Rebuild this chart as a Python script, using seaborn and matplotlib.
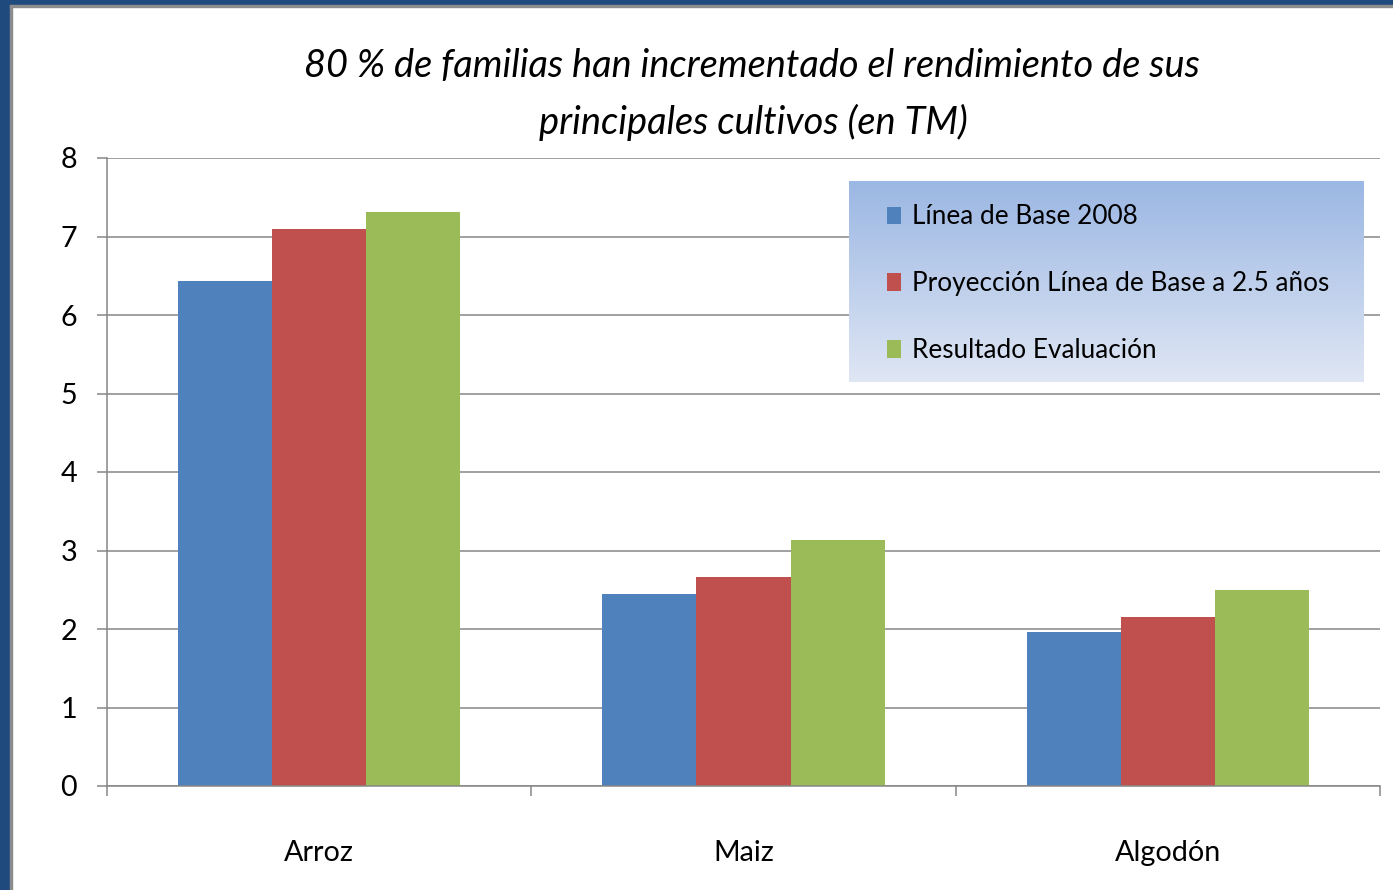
import numpy as np
import pandas as pd
import matplotlib
matplotlib.use("Agg")
import matplotlib.pyplot as plt
from matplotlib.patches import Rectangle
import seaborn as sns

cultivos = ["Arroz", "Maiz", "Algodón"]
series = ["Línea de Base 2008", "Proyección Línea de Base a 2.5 años", "Resultado Evaluación"]
linea_base = [6.43, 2.45, 1.96]
proyeccion = [7.10, 2.66, 2.15]
resultado = [7.31, 3.13, 2.50]
colores = ["#4f81bd", "#c0504d", "#9bbb59"]
titulo = ["80 % de familias han incrementado el rendimiento de sus",
          "principales cultivos (en TM)"]

df = pd.DataFrame({
    "cultivo": cultivos * 3,
    "serie": [series[0]] * 3 + [series[1]] * 3 + [series[2]] * 3,
    "valor": linea_base + proyeccion + resultado,
})

sns.set_style("white")
plt.rcParams["font.family"] = ["Lato", "DejaVu Sans"]
plt.rcParams["text.color"] = "black"
plt.rcParams["xtick.labelcolor"] = "black"
plt.rcParams["ytick.labelcolor"] = "black"

W, H = 1393, 890
fig = plt.figure(figsize=(W / 100, H / 100), dpi=100, facecolor="white")
renderer = fig.canvas.get_renderer()


def fit_width(txt, target_px):
    # ajusta el tamaño de letra para que el texto ocupe target_px de ancho
    w = txt.get_window_extent(renderer).width
    txt.set_fontsize(txt.get_fontsize() * target_px / w)


# marco azul oscuro y linea gris
fig.patches.append(Rectangle((0, 0), 10 / W, 1, transform=fig.transFigure, color="#1f4a7e", zorder=0))
fig.patches.append(Rectangle((0, 1 - 5 / H), 1, 5 / H, transform=fig.transFigure, color="#1f4a7e", zorder=0))
fig.patches.append(Rectangle((10 / W, 0), 2 / W, 1 - 5 / H, transform=fig.transFigure, color="#8c8c8c", zorder=0))
fig.patches.append(Rectangle((10 / W, 1 - 7 / H), 1, 2 / H, transform=fig.transFigure, color="#8c8c8c", zorder=0))

ax = fig.add_axes([107 / W, 1 - 786 / H, 1273 / W, 628 / H])
sns.barplot(data=df, x="cultivo", y="valor", hue="serie", order=cultivos, hue_order=series,
            palette=colores, width=0.665, gap=0, saturation=1, linewidth=0, ax=ax, legend=True)

grid_col = "#868686"
ax.set_ylim(0, 8)
ax.set_xlim(-0.5, 2.5)
ax.set_yticks(range(0, 9))
ax.yaxis.grid(True, color=grid_col, linewidth=1.1)
ax.set_axisbelow(True)
for s in ["top", "right"]:
    ax.spines[s].set_visible(False)
for s in ["left", "bottom"]:
    ax.spines[s].set_color(grid_col)
    ax.spines[s].set_linewidth(1.1)
ax.spines["bottom"].set_zorder(3)

ax.set_xticks([-0.5, 0.5, 1.5, 2.5])
ax.set_xticklabels([])
ax.set_xticks([0, 1, 2], minor=True)
xl = ax.set_xticklabels(cultivos, minor=True, fontsize=24)
ax.tick_params(axis="x", which="major", direction="out", length=7.5, width=1.1, color=grid_col, bottom=True)
ax.tick_params(axis="x", which="minor", length=0, pad=39)
ax.tick_params(axis="y", direction="out", length=7.5, width=1.1, color=grid_col, left=True, labelsize=24, pad=14)
ax.set_xlabel("")
ax.set_ylabel("")
fit_width(xl[2], 106)
size_ticks = xl[2].get_fontsize()
ax.tick_params(axis="both", which="both", labelsize=size_ticks, labelcolor="black")

# fondo degradado de la leyenda
grad_ax = ax.inset_axes([0.5829, 0.6433, 0.4038, 0.3201], zorder=4.5)
top = np.array([155, 183, 227]) / 255
bot = np.array([223, 230, 244]) / 255
t = np.linspace(0, 1, 100)[:, None, None]
grad = top * (1 - t) + bot * t
grad_ax.imshow(grad, aspect="auto", extent=[0, 1, 0, 1])
grad_ax.set_axis_off()

handles, labels = ax.get_legend_handles_labels()
tmp = fig.text(0, 0, series[1], fontsize=22)
fit_width(tmp, 414)
size_leg = tmp.get_fontsize()
tmp.remove()
leg = ax.legend(handles, labels, loc="upper left", bbox_to_anchor=(0.6128, 0.926),
                frameon=False, fontsize=size_leg, handlelength=0.55, handleheight=0.65,
                handletextpad=0.4, labelspacing=1.6, borderaxespad=0, borderpad=0,
                labelcolor="black")
leg.set_zorder(6)

t1 = fig.text(752 / W, 1 - 77 / H, titulo[0], ha="center", va="baseline", fontsize=29, style="italic")
fit_width(t1, 897)
fig.text(753 / W, 1 - 134 / H, titulo[1], ha="center", va="baseline", fontsize=t1.get_fontsize(), style="italic")

fig.savefig("out.png", dpi=100, facecolor="white")
